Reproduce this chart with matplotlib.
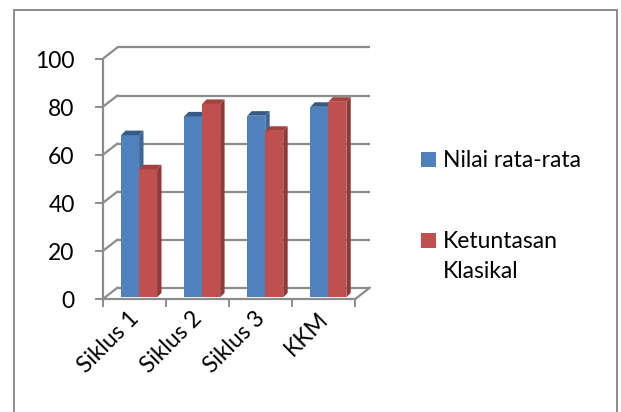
import matplotlib
matplotlib.use("Agg")
import matplotlib.pyplot as plt
from matplotlib.patches import Polygon, Rectangle

categories = ["Siklus 1", "Siklus 2", "Siklus 3", "KKM"]
series_names = ["Nilai rata-rata", "Ketuntasan\nKlasikal"]
nilai = [67.5, 75.3, 75.6, 79.3]
ketuntasan = [53.3, 80.5, 69.3, 81.4]
yticks = [0, 20, 40, 60, 80, 100]

plt.rcParams['font.family'] = ['Lato', 'DejaVu Sans']
FS = 16.5
GRID = '#8c8c8c'
W, H = 621, 412

fig = plt.figure(figsize=(W / 100, H / 100), dpi=100)
ax = fig.add_axes([102.5 / W, (H - 299.3) / H, 269.4 / W, 254.7 / H])
ax.set_xlim(-0.5, 3.77)
ax.set_ylim(0, 106)
for s in ax.spines.values():
    s.set_visible(False)

DX, DY = 0.235, 4.8          # wall depth offset (category units, value units)
n = len(categories)
x_lo, x_hi = -0.5, n - 0.5

# back wall gridlines + left wall diagonals
for v in yticks:
    ax.plot([x_lo + DX, x_hi + DX], [v + DY, v + DY], color=GRID, lw=1.6,
            solid_capstyle='butt', zorder=1, clip_on=False)
    ax.plot([x_lo, x_lo + DX], [v, v + DY], color=GRID, lw=1.6, zorder=1, clip_on=False)
# floor
ax.plot([x_lo, x_hi], [0, 0], color=GRID, lw=1.6, zorder=2, clip_on=False)
ax.plot([x_hi, x_hi + DX], [0, DY], color=GRID, lw=1.6, zorder=2, clip_on=False)
# front value axis
ax.plot([x_lo, x_lo], [0, 100], color=GRID, lw=1.6, zorder=2, clip_on=False)

# bars
bw = 0.285
shift = 0.08
base = 0.8
ddx, ddy = 0.07, 1.9
styles = [
    ('#4F81BD', '#3E6796', '#375B86'),
    ('#C0504D', '#8E3A38', '#A3423F'),
]
for si, vals in enumerate([nilai, ketuntasan]):
    front, side, top = styles[si]
    for i, v in enumerate(vals):
        x0 = i + shift - bw + si * bw
        x1 = x0 + bw
        ax.bar(x0, v, width=bw, bottom=base, align='edge', color=front,
               edgecolor='none', zorder=5 + si)
        yt = base + v
        ax.add_patch(Polygon([(x1, base), (x1 + ddx, base + ddy), (x1 + ddx, yt + ddy), (x1, yt)],
                             closed=True, facecolor=side, edgecolor='none', zorder=5 + si))
        ax.add_patch(Polygon([(x0, yt), (x0 + ddx, yt + ddy), (x1 + ddx, yt + ddy), (x1, yt)],
                             closed=True, facecolor=top, edgecolor='none', zorder=5 + si))

# ticks
ax.set_yticks(yticks)
ax.set_yticklabels([str(t) for t in yticks], fontsize=FS)
ax.tick_params(axis='y', length=6, width=1.4, color=GRID, pad=14)
ax.set_xticks([i - 0.5 for i in range(n + 1)])
ax.set_xticklabels([])
ax.tick_params(axis='x', length=6, width=1.4, color=GRID, direction='out')
for i, c in enumerate(categories):
    ax.text(i - 0.1, -3.6, c, rotation=45, rotation_mode='anchor', ha='right', va='top',
            fontsize=FS, clip_on=False)

# legend (manual)
leg_colors = [styles[0][0], styles[1][0]]
sq = 15
for (ytop_sq, col) in [(152, leg_colors[0]), (233, leg_colors[1])]:
    fig.patches.append(Rectangle((421 / W, (H - ytop_sq - sq) / H), sq / W, sq / H,
                                 transform=fig.transFigure, facecolor=col, edgecolor='none'))
fig.text(443 / W, (H - 167) / H, series_names[0], fontsize=FS, va='baseline', ha='left')
l1, l2 = series_names[1].split('\n')
fig.text(443 / W, (H - 248.3) / H, l1, fontsize=FS, va='baseline', ha='left')
fig.text(443 / W, (H - 278.3) / H, l2, fontsize=FS, va='baseline', ha='left')

# outer chart border
fig.patches.append(Rectangle((14 / W, -0.02), 603 / W, (H - 10) / H + 0.02,
                             transform=fig.transFigure, facecolor='none', edgecolor=GRID, lw=1.4))

fig.savefig('out.png', dpi=100)
